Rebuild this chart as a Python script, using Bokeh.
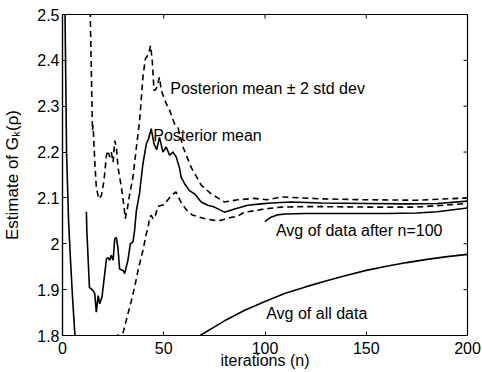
import math
from bokeh.plotting import figure
from bokeh.models import Range1d, FixedTicker, Label
from bokeh.embed import file_html
from bokeh.resources import INLINE

# ---------------- data ----------------
x_ticks = [0, 50, 100, 150, 200]
y_ticks = [1.8, 1.9, 2.0, 2.1, 2.2, 2.3, 2.4, 2.5]

all_n = [1, 2, 3, 4, 5, 6, 7, 10, 20, 30, 40, 50, 60, 68, 80, 90, 100, 110, 120,
         130, 140, 150, 160, 170, 180, 190, 200]
all_v = [2.60, 2.20, 2.05, 1.96, 1.88, 1.81, 1.77, 1.72, 1.68, 1.68, 1.70, 1.73,
         1.77, 1.80, 1.832, 1.855, 1.874, 1.892, 1.906, 1.919, 1.931, 1.942, 1.951,
         1.959, 1.966, 1.972, 1.977]

mean_n = [11.8, 12.0, 13.3, 15.1, 15.9, 16.7, 17.6, 18.4, 19.5, 21.7, 22.5, 23.3,
          24.1, 25.0, 25.8, 26.6, 27.4, 28.2, 29.9, 30.7, 32.3, 33.5, 34.8, 35.6,
          36.5, 38.0, 39.7, 41.4, 42.5, 43.8, 45.2, 46.5, 47.9, 49.6, 51.2, 52.9,
          54.5, 56.2, 57.8, 58.6, 60.3, 62.7, 65.2, 68.5, 71.8, 75, 80, 85, 91.5,
          98, 103, 113, 128, 150, 170, 185, 200]
mean_v = [2.070, 2.030, 1.905, 1.898, 1.892, 1.851, 1.887, 1.869, 1.884, 1.967,
          1.970, 1.964, 1.975, 1.964, 2.011, 2.014, 1.990, 1.945, 1.942, 1.935,
          1.964, 2.000, 2.004, 2.029, 2.073, 2.109, 2.174, 2.218, 2.229, 2.251,
          2.218, 2.205, 2.232, 2.200, 2.211, 2.193, 2.200, 2.189, 2.165, 2.145,
          2.131, 2.116, 2.109, 2.091, 2.084, 2.080, 2.069, 2.076, 2.084, 2.087,
          2.089, 2.091, 2.089, 2.088, 2.087, 2.088, 2.093]

upper_n = [12.0, 14.8, 15.1, 16.0, 16.7, 17.9, 19.2, 20.5, 21.7, 22.5, 23.3, 24.1,
           25.0, 25.8, 26.6, 27.4, 29.1, 30.4, 31.0, 31.9, 33.2, 34.8, 36.5, 38.1,
           39.7, 40.9, 42.5, 43.5, 44.3, 45.2, 46.3, 47.9, 48.8, 51.2, 52.9, 55.3,
           57.0, 59.5, 63.5, 68.5, 73.4, 80, 86.5, 94.7, 101, 108, 119, 128, 150,
           175, 200]
upper_v = [2.90, 2.247, 2.258, 2.174, 2.123, 2.098, 2.105, 2.138, 2.193, 2.203,
           2.189, 2.200, 2.178, 2.225, 2.211, 2.167, 2.123, 2.080, 2.055, 2.073,
           2.109, 2.145, 2.211, 2.269, 2.363, 2.403, 2.414, 2.432, 2.400, 2.334,
           2.338, 2.363, 2.334, 2.306, 2.291, 2.262, 2.254, 2.211, 2.167, 2.128,
           2.109, 2.091, 2.096, 2.099, 2.096, 2.102, 2.100, 2.098, 2.096, 2.095,
           2.100]

lower_n = [12.0, 17.0, 22.0, 26.0, 26.6, 29.9, 31.5, 32.3, 34.0, 35.6, 37.3, 38.9,
           39.7, 41.4, 42.2, 43.0, 43.8, 44.7, 45.5, 47.1, 50, 53.7, 56, 58.6, 61,
           64, 70, 75, 78, 81.6, 86.5, 89.8, 96.4, 99.7, 108, 119, 128, 150, 175,
           200]
lower_v = [1.54, 1.58, 1.70, 1.79, 1.799, 1.806, 1.833, 1.847, 1.876, 1.905, 1.942,
           1.971, 1.985, 2.022, 2.033, 2.058, 2.062, 2.055, 2.055, 2.082, 2.085,
           2.105, 2.113, 2.090, 2.075, 2.063, 2.055, 2.051, 2.051, 2.056, 2.060,
           2.069, 2.073, 2.076, 2.080, 2.081, 2.081, 2.080, 2.080, 2.088]

after_n = [100, 101, 103, 106, 110, 120, 140, 160, 175, 185, 200]
after_v = [2.048, 2.052, 2.058, 2.063, 2.065, 2.066, 2.066, 2.066, 2.067, 2.070, 2.078]

# ---------------- figure ----------------
FONT = "Liberation Sans"
X0, X1, Y0, Y1 = 0, 200, 1.8, 2.5
FL, FR, FT, FB = 61, 467, 14, 335  # frame edges in pixels

p = figure(width=482, height=372, output_backend="svg", toolbar_location=None,
           x_range=Range1d(X0, X1), y_range=Range1d(Y0, Y1),
           min_border_left=FL, min_border_right=482 - FR,
           min_border_top=FT, min_border_bottom=372 - FB)
p.background_fill_color = "white"
p.border_fill_color = "white"
p.outline_line_color = "black"
p.outline_line_width = 1.2
p.xgrid.visible = False
p.ygrid.visible = False

for ax in (p.xaxis[0], p.yaxis[0]):
    ax.axis_line_color = "black"
    ax.axis_line_width = 1.2
    ax.major_tick_in = 4
    ax.major_tick_out = 0
    ax.minor_tick_line_color = None
    ax.major_tick_line_color = "black"
    ax.major_label_text_font = FONT
    ax.major_label_text_font_size = "16px"
    ax.major_label_text_color = "black"
    ax.axis_label_text_font = FONT
    ax.axis_label_text_font_style = "normal"
    ax.axis_label_text_color = "black"

p.xaxis.ticker = FixedTicker(ticks=x_ticks)
p.yaxis.ticker = FixedTicker(ticks=y_ticks)
p.yaxis.major_label_overrides = {2: "2"}
p.xaxis.major_label_standoff = 6
p.yaxis.major_label_standoff = 3

p.xaxis.axis_label = "iterations (n)"
p.xaxis.axis_label_text_font_size = "16px"
p.xaxis.axis_label_standoff = -5

p.yaxis.axis_label = "Estimate of G\u2096(\u03c1)"
p.yaxis.axis_label_text_font_size = "17px"
p.yaxis.axis_label_standoff = 12

# inward tick marks on the top and right edges of the box
p.ray(x=x_ticks, y=[Y1] * len(x_ticks), length=4, length_units="screen",
      angle=-math.pi / 2, line_color="black", line_width=1)
p.ray(x=[X1] * len(y_ticks), y=y_ticks, length=4, length_units="screen",
      angle=math.pi, line_color="black", line_width=1)

LW = 1.6
DASH = "6 4"
p.line(all_n, all_v, line_color="black", line_width=LW)
p.line(mean_n, mean_v, line_color="black", line_width=LW)
p.line(after_n, after_v, line_color="black", line_width=LW)
p.line(upper_n, upper_v, line_color="black", line_width=LW, line_dash=DASH)
p.line(lower_n, lower_v, line_color="black", line_width=LW, line_dash=DASH)


def add_label(x, y, text, size="16px"):
    p.add_layout(Label(x=x, y=y, text=text, text_align="left",
                       text_baseline="alphabetic", text_font=FONT,
                       text_font_size=size, text_color="black"))


add_label(53.2, 2.339, "Posterion mean \u00b1 2 std dev")
add_label(44.8, 2.236, "Posterior mean")
add_label(105.4, 2.030, "Avg of data after n=100")
add_label(100.6, 1.848, "Avg of all data")

open("out.html", "w").write(file_html(p, INLINE))
